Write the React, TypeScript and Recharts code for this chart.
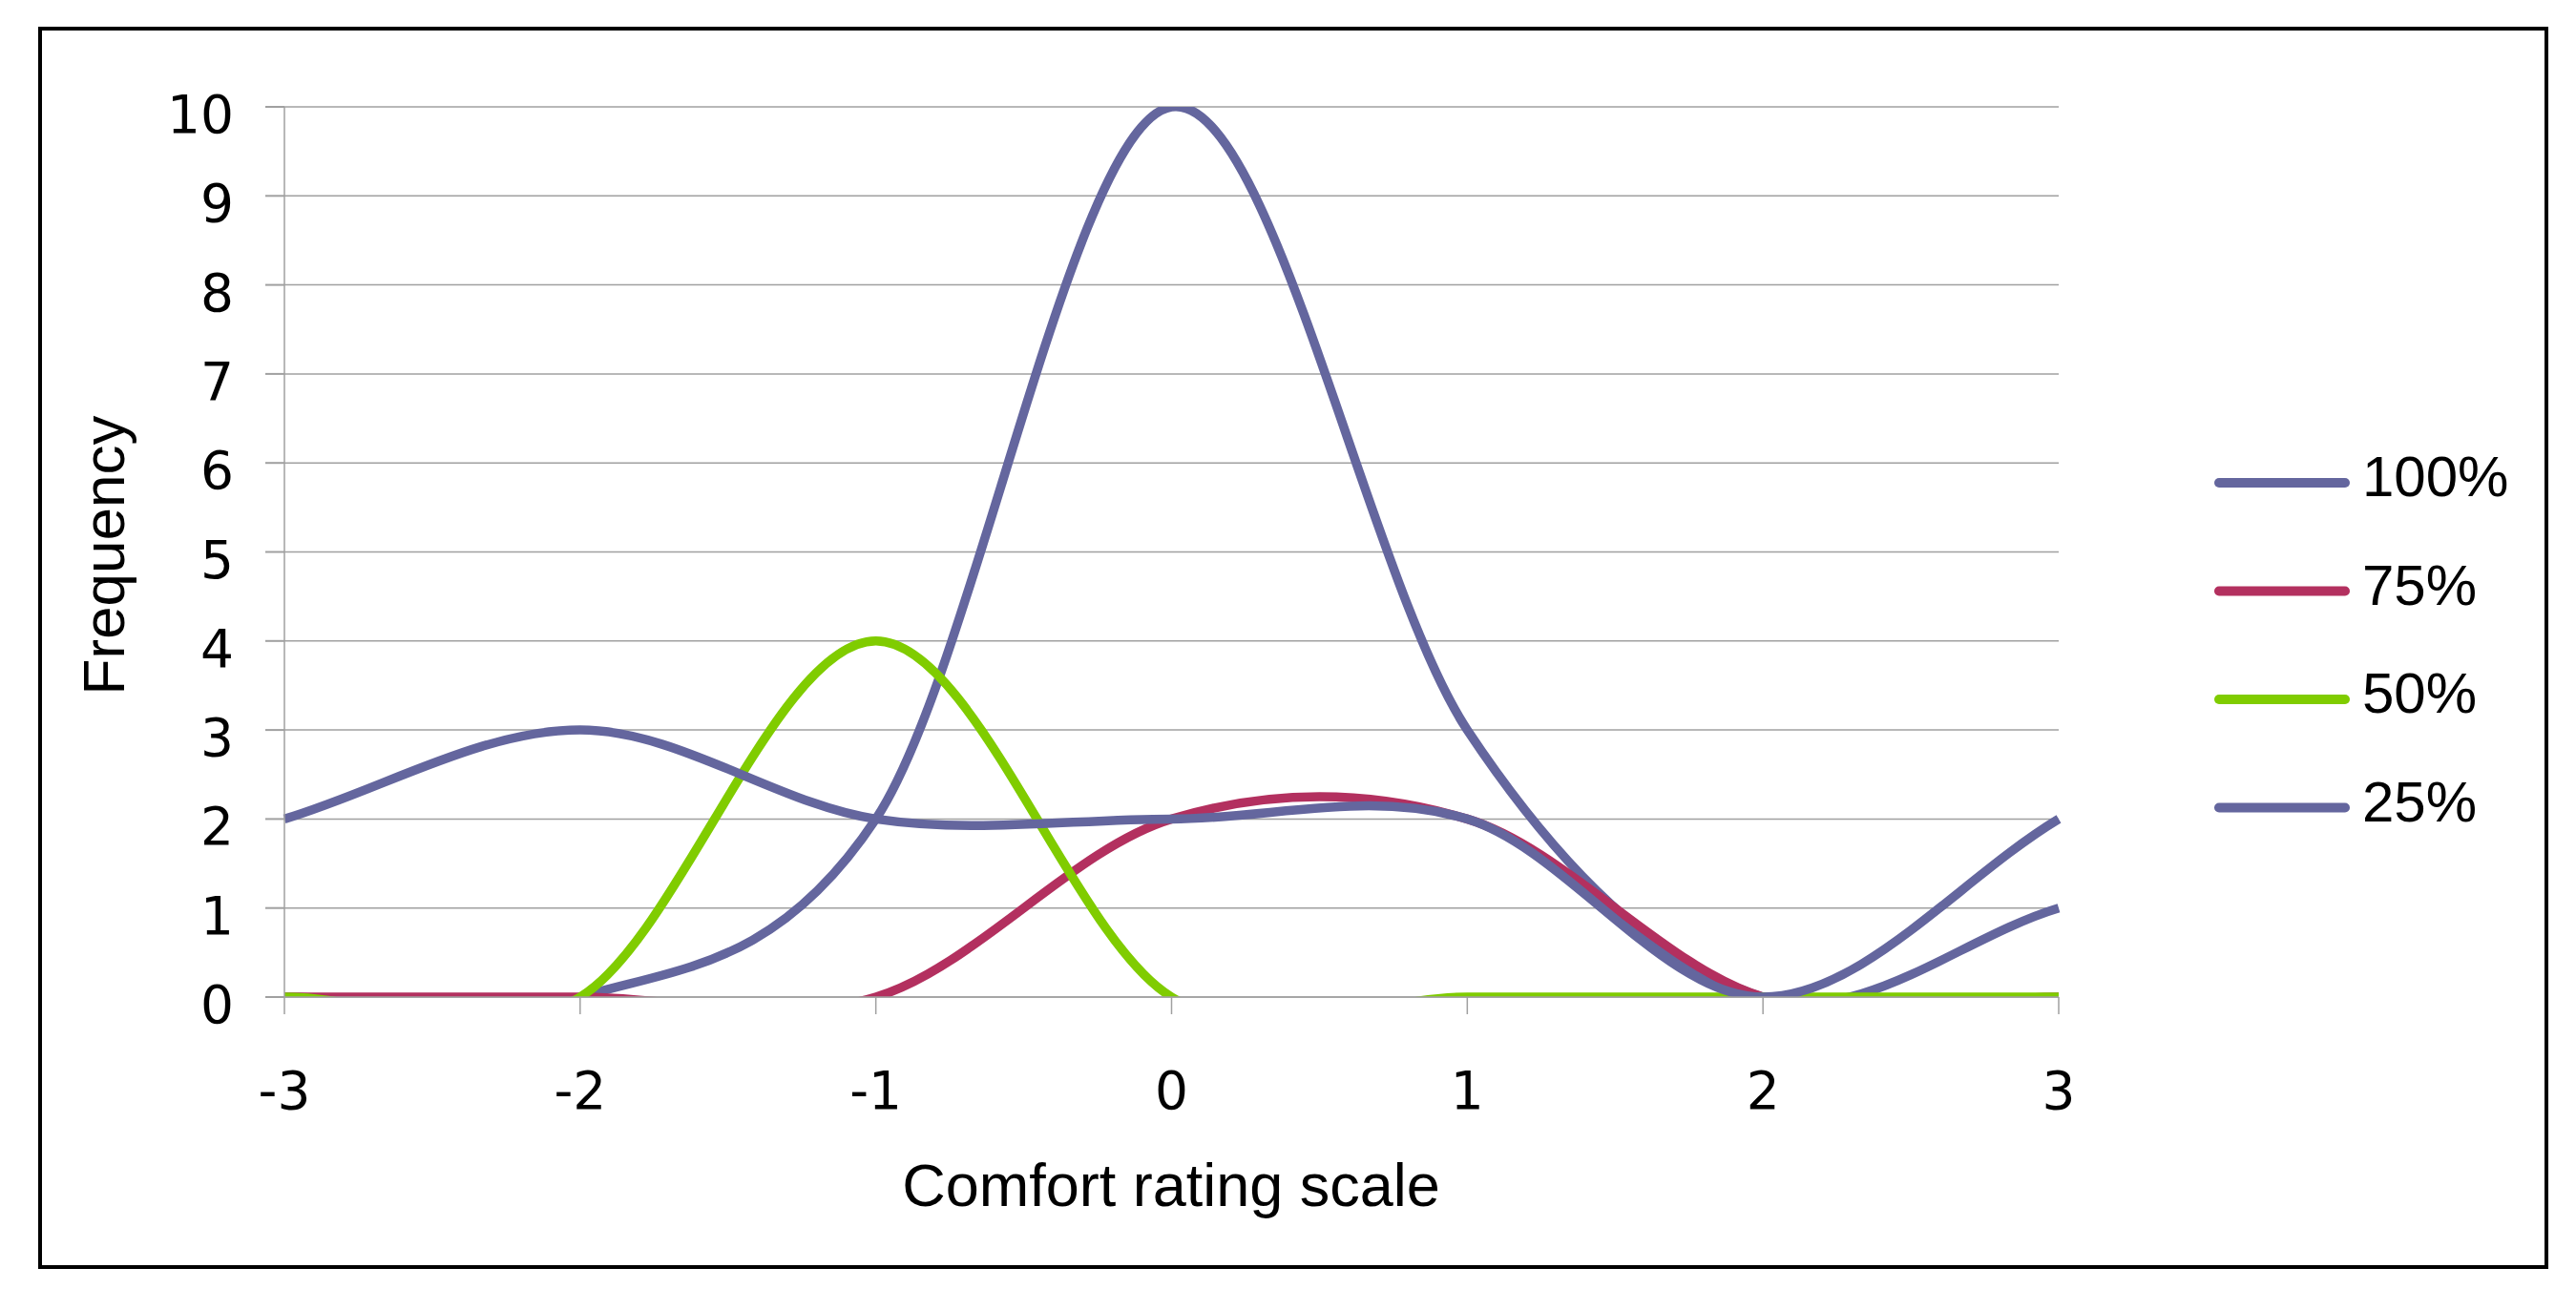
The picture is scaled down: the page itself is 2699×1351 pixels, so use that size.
import React from 'react'
import { LineChart, Line, XAxis, YAxis, CartesianGrid, Label } from 'recharts'

// frequency of each comfort rating, per condition
const ratings = [-3, -2, -1, 0, 1, 2, 3]
const freq100 = [0, 0, 2, 10, 3, 0, 1]
const freq75 = [0, 0, 0, 2, 2, 0, 0]
const freq50 = [0, 0, 4, 0, 0, 0, 0]
const freq25 = [2, 3, 2, 2, 2, 0, 2]
const yTicks = [0, 1, 2, 3, 4, 5, 6, 7, 8, 9, 10]

const series = [
  { key: 'p100', name: '100%', color: '#64669e', values: freq100 },
  { key: 'p75', name: '75%', color: '#b3305f', values: freq75 },
  { key: 'p50', name: '50%', color: '#80cc00', values: freq50 },
  { key: 'p25', name: '25%', color: '#64669e', values: freq25 },
]

const data = ratings.map((rating, i) => {
  const row: Record<string, number> = { rating }
  series.forEach((s) => {
    row[s.key] = s.values[i]
  })
  return row
})

const W = 2699
const H = 1351
const grey = '#a0a0a0'
const sans = '"Liberation Sans", Arial, sans-serif'
const tickFont = '"DejaVu Sans", Verdana, sans-serif'

// Excel-like smoothed line: catmull-rom beziers, end points mirrored
function excelSmooth(context: any) {
  let pts: [number, number][] = []
  return {
    areaStart() {},
    areaEnd() {},
    lineStart() {
      pts = []
    },
    point(x: number, y: number) {
      pts.push([+x, +y])
    },
    lineEnd() {
      const n = pts.length
      if (!n) return
      context.moveTo(pts[0][0], pts[0][1])
      if (n === 1) return
      const at = (i: number): [number, number] => {
        if (i < 0) return [2 * pts[0][0] - pts[1][0], 2 * pts[0][1] - pts[1][1]]
        if (i >= n) return [2 * pts[n - 1][0] - pts[n - 2][0], 2 * pts[n - 1][1] - pts[n - 2][1]]
        return pts[i]
      }
      for (let i = 0; i < n - 1; i++) {
        const p0 = at(i - 1)
        const p1 = pts[i]
        const p2 = pts[i + 1]
        const p3 = at(i + 2)
        context.bezierCurveTo(
          p1[0] + (p2[0] - p0[0]) / 6,
          p1[1] + (p2[1] - p0[1]) / 6,
          p2[0] - (p3[0] - p1[0]) / 6,
          p2[1] - (p3[1] - p1[1]) / 6,
          p2[0],
          p2[1]
        )
      }
    },
  }
}

const YTick = (props: any) => (
  <text x={props.x} y={props.y + 27} textAnchor="end" fontFamily={tickFont} fontSize={55} fill="#000">
    {props.payload.value}
  </text>
)

const XTick = (props: any) => (
  <text x={props.x} y={props.y + 99} textAnchor="middle" fontFamily={tickFont} fontSize={55} fill="#000">
    {props.payload.value}
  </text>
)

export default function App() {
  return (
    <div style={{ position: 'absolute', left: 0, top: 0, width: W, height: H, background: '#fff' }}>
      <div
        style={{
          position: 'absolute',
          left: 40,
          top: 28,
          width: 2630,
          height: 1302,
          border: '4px solid #000',
          boxSizing: 'border-box',
        }}
      />
      <div style={{ position: 'absolute', left: 0, top: 0 }}>
        <LineChart width={W} height={H} data={data} margin={{ top: 112, right: 542, bottom: 246, left: 148 }}>
          <CartesianGrid vertical={false} stroke={grey} strokeWidth={1.5} />
          <XAxis
            dataKey="rating"
            type="number"
            domain={[-3, 3]}
            ticks={ratings}
            interval={0}
            height={60}
            axisLine={{ stroke: grey, strokeWidth: 1.5 }}
            tickLine={{ stroke: grey, strokeWidth: 1.5 }}
            tickSize={18}
            tickMargin={0}
            tick={XTick}
          >
            <Label
              content={() => (
                <text x={1227} y={1264} textAnchor="middle" fontFamily={sans} fontSize={63} fill="#000">
                  Comfort rating scale
                </text>
              )}
            />
          </XAxis>
          <YAxis
            type="number"
            domain={[0, 10]}
            ticks={yTicks}
            interval={0}
            allowDataOverflow
            width={150}
            axisLine={{ stroke: grey, strokeWidth: 1.5 }}
            tickLine={{ stroke: grey, strokeWidth: 2 }}
            tickSize={20}
            tickMargin={33}
            tick={YTick}
          >
            <Label
              content={() => (
                <text
                  x={130}
                  y={582}
                  transform="rotate(-90 130 582)"
                  textAnchor="middle"
                  fontFamily={sans}
                  fontSize={62}
                  fill="#000"
                >
                  Frequency
                </text>
              )}
            />
          </YAxis>
          {series.map((s) => (
            <Line
              key={s.key}
              dataKey={s.key}
              name={s.name}
              type={excelSmooth as any}
              stroke={s.color}
              strokeWidth={9.5}
              strokeLinejoin="round"
              dot={false}
              activeDot={false}
              isAnimationActive={false}
            />
          ))}
        </LineChart>
      </div>
      <svg
        width={W}
        height={H}
        style={{ position: 'absolute', left: 0, top: 0, pointerEvents: 'none' }}
      >
        {series.map((s, i) => {
          const y = 506 + i * 113.5
          return (
            <g key={s.key}>
              <line x1={2325} x2={2457} y1={y} y2={y} stroke={s.color} strokeWidth={10} strokeLinecap="round" />
              <text x={2475} y={y + 14} fontFamily={sans} fontSize={60} fill="#000">
                {s.name}
              </text>
            </g>
          )
        })}
      </svg>
    </div>
  )
}
